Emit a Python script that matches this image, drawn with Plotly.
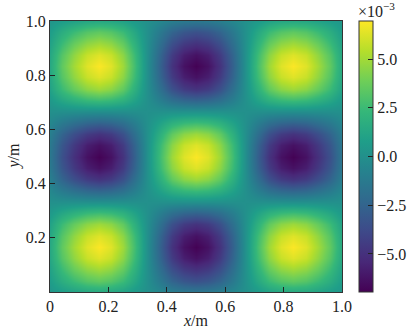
import plotly.graph_objects as go

# grid node coordinates (m), step 1/24
x_nodes = [i / 24 for i in range(25)]
y_nodes = [i / 24 for i in range(25)]

# field values, in units of 1e-3; each list is one row (fixed y)
r20 = [0.3, 0.7, 1.0, 1.3, 1.4, 1.3, 1.0, 0.5, 0, -0.5, -1.0, -1.3, -1.4, -1.3, -1.0, -0.5, 0, 0.5, 1.0, 1.3, 1.4, 1.3, 1.0, 0.7, 0.3]
r38 = [0.5, 1.3, 1.9, 2.4, 2.6, 2.4, 1.9, 1.0, 0, -1.0, -1.9, -2.4, -2.6, -2.4, -1.9, -1.0, 0, 1.0, 1.9, 2.4, 2.6, 2.4, 1.9, 1.3, 0.5]
r50 = [0.7, 1.7, 2.5, 3.2, 3.5, 3.2, 2.5, 1.3, 0, -1.3, -2.5, -3.2, -3.5, -3.2, -2.5, -1.3, 0, 1.3, 2.5, 3.2, 3.5, 3.2, 2.5, 1.7, 0.7]
r71 = [1.0, 2.5, 3.6, 4.5, 4.9, 4.5, 3.5, 1.8, 0, -1.8, -3.5, -4.5, -4.9, -4.5, -3.5, -1.8, 0, 1.8, 3.5, 4.5, 4.9, 4.5, 3.6, 2.5, 1.0]
r73 = [1.0, 2.5, 3.7, 4.6, 5.0, 4.6, 3.6, 1.9, 0, -1.9, -3.6, -4.6, -5.0, -4.6, -3.6, -1.9, 0, 1.9, 3.6, 4.6, 5.0, 4.6, 3.7, 2.5, 1.0]
r92 = [1.3, 3.2, 4.6, 5.8, 6.3, 5.8, 4.5, 2.4, 0, -2.4, -4.5, -5.8, -6.3, -5.8, -4.5, -2.4, 0, 2.4, 4.5, 5.8, 6.3, 5.8, 4.6, 3.2, 1.3]
r100 = [1.4, 3.5, 5.0, 6.3, 6.9, 6.3, 4.9, 2.6, 0, -2.6, -4.9, -6.3, -6.9, -6.3, -4.9, -2.6, 0, 2.6, 4.9, 6.3, 6.9, 6.3, 5.0, 3.5, 1.4]
r0 = [0.0] * 25


def neg(row):
    return [-v for v in row]


z_milli = [r20, r50, r73, r92, r100, r92, r71, r38, r0,
           neg(r38), neg(r71), neg(r92), neg(r100), neg(r92), neg(r71), neg(r38), r0,
           r38, r71, r92, r100, r92, r73, r50, r20]

cbar_ticks = [-5.0, -2.5, 0.0, 2.5, 5.0]
cbar_text = ["\u22125.0", "\u22122.5", "0.0", "2.5", "5.0"]
x_ticks = [0, 0.2, 0.4, 0.6, 0.8, 1.0]
x_tick_text = ["0", "0.2", "0.4", "0.6", "0.8", "1.0"]
y_ticks = [0.2, 0.4, 0.6, 0.8, 1.0]
y_tick_text = ["0.2", "0.4", "0.6", "0.8", "1.0"]

FONT = "Liberation Serif"
W, H = 411, 335
L, R, T, B = 50, 69, 21, 43
pw = W - L - R
ph = H - T - B

fig = go.Figure(go.Heatmap(
    x=x_nodes, y=y_nodes, z=z_milli,
    colorscale="Viridis", zmin=-6.95, zmax=6.95, zsmooth="best",
    colorbar=dict(
        x=(359 - L) / pw, xanchor="left", xpad=0, y=0.5, yanchor="middle",
        len=1, lenmode="fraction", ypad=0, thickness=14, thicknessmode="pixels",
        outlinewidth=1, outlinecolor="#333",
        tickvals=cbar_ticks, ticktext=cbar_text, ticks="inside", ticklen=5,
        tickcolor="#222", tickfont=dict(family=FONT, size=16, color="#222"),
    ),
))

axis_common = dict(
    showgrid=False, zeroline=False, showline=True, mirror=True,
    linecolor="#333", linewidth=1, ticks="inside", ticklen=5, tickcolor="#222",
    tickfont=dict(family=FONT, size=16, color="#222"),
)
fig.update_xaxes(range=[0, 1], tickvals=x_ticks, ticktext=x_tick_text, **axis_common)
fig.update_yaxes(range=[0, 1], tickvals=y_ticks, ticktext=y_tick_text, **axis_common)

fig.update_layout(
    width=W, height=H, margin=dict(l=L, r=R, t=T, b=B, autoexpand=False),
    paper_bgcolor="white", plot_bgcolor="white",
    font=dict(family=FONT, color="#222"),
    annotations=[
        dict(text="<i>x</i>/m", xref="paper", yref="paper", x=0.5, y=-(320 - 292) / ph,
             xanchor="center", yanchor="middle", showarrow=False, font=dict(family=FONT, size=16)),
        dict(text="<i>y</i>/m", xref="paper", yref="paper", x=-(L - 13) / pw, y=0.5,
             xanchor="center", yanchor="middle", textangle=-90, showarrow=False,
             font=dict(family=FONT, size=16)),
        dict(text="\u00d710<sup>\u22123</sup>", xref="paper", yref="paper", x=(356 - L) / pw,
             y=1 + (21 - 10) / ph, xanchor="left", yanchor="middle", showarrow=False,
             font=dict(family=FONT, size=16)),
    ],
)

fig.write_html("out.html")
